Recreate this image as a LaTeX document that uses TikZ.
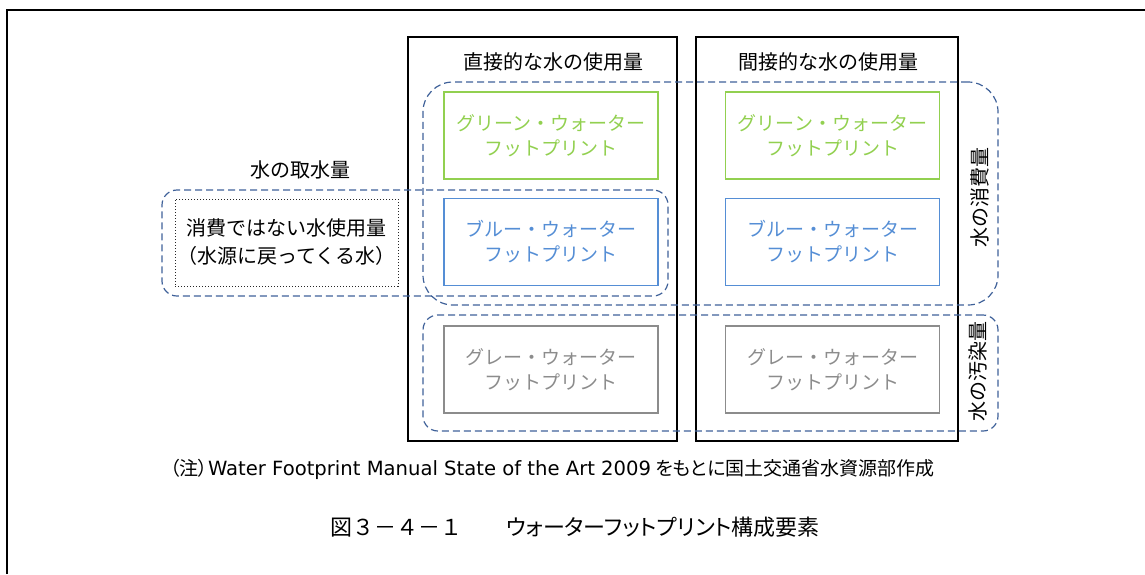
\documentclass[tikz,border=0pt]{standalone}
\usepackage{fontspec}
\setmainfont{Noto Sans CJK JP}
\newfontfamily\jpprop[RawFeature=+palt]{Noto Sans CJK JP}
\newfontfamily\verdanalike{DejaVu Sans}
\usepackage{tikz}
\usetikzlibrary{positioning,calc}
\definecolor{FpInk}{HTML}{000000}
\definecolor{FpGreen}{HTML}{92D050}
\definecolor{FpBlue}{HTML}{558ED5}
\definecolor{FpGrey}{HTML}{8C8C8C}
\definecolor{FpDash}{HTML}{3F6199}

\tikzset{
  colbox/.style={draw=FpInk,line width=0.75pt,minimum width=#1,minimum height=202pt,inner sep=0pt},
  fpbox/.style={draw=#1,text=#1,line width=0.6pt,minimum width=107pt,minimum height=43.5pt,inner sep=0pt,align=center,font=\fontsize{9.5pt}{12.5pt}\selectfont},
  zone/.style={draw=FpDash,line width=0.6pt,dash pattern=on 3.5pt off 2pt,inner sep=0pt},
  headtext/.style={font=\fontsize{10pt}{12pt}\selectfont}
}

\begin{document}
\begin{tikzpicture}[x=0.5pt,y=-0.5pt]
\useasboundingbox (0,0) rectangle (1145,574);
\draw[FpInk,line width=1pt] (7,574) -- (7,10) -- (1145,10);
% columns
\node[colbox=134.5pt] (colDirect) at (542.5,239) {};
\node[colbox=131pt] (colIndirect) at (827,239) {};
\node[headtext] (headDirect) at (553,62) {直接的な水の使用量};
\node[headtext] (headIndirect) at (828,62) {間接的な水の使用量};
% footprint boxes
\node[fpbox=FpGreen] (greenD) at (551,135.5) {グリーン・ウォーター\\フットプリント};
\node[fpbox=FpGreen] (greenI) at (832.5,135.5) {グリーン・ウォーター\\フットプリント};
\node[fpbox=FpBlue] (blueD) at (551,242) {ブルー・ウォーター\\フットプリント};
\node[fpbox=FpBlue] (blueI) at (832.5,242) {ブルー・ウォーター\\フットプリント};
\node[fpbox=FpGrey] (greyD) at (551,369.5) {グレー・ウォーター\\フットプリント};
\node[fpbox=FpGrey] (greyI) at (832.5,369.5) {グレー・ウォーター\\フットプリント};
\node[draw=FpInk!85,densely dotted,line width=0.5pt,minimum width=111.5pt,minimum height=43.5pt,inner sep=0pt,align=center,font=\fontsize{10pt}{14pt}\selectfont] (returnBox) at (286.5,242.5) {消費ではない水使用量\\（水源に戻ってくる水）};
% dashed zones
\node[zone,rounded corners=15pt,minimum width=287.5pt,minimum height=111.5pt] (zoneUse) at (710.5,193.5) {};
\node[zone,rounded corners=7.5pt,minimum width=287.5pt,minimum height=58pt] (zonePoll) at (710.5,373) {};
\node[zone,rounded corners=7.5pt,minimum width=253pt,minimum height=53pt] (zoneTake) at (415,243) {};
\node[headtext] (labTake) at (300,170) {水の取水量};
\node[headtext,rotate=90] (labUse) at (980,197) {水の消費量};
\node[headtext,rotate=90] (labPoll) at (978,371) {水の汚染量};
% note and caption
\node[anchor=west,font=\fontsize{9.5pt}{11pt}\selectfont] (note) at (163,469) {{\jpprop （注）}{\verdanalike\fontsize{9.8pt}{11pt}\selectfont Water Footprint Manual State of the Art 2009} {\jpprop をもとに}国土交通省水資源部作成};
\node[font=\fontsize{11pt}{13pt}\selectfont] (caption) at (575,527) {図３－４－１　　{\jpprop ウォーターフットプリント}構成要素};
\end{tikzpicture}
\end{document}
